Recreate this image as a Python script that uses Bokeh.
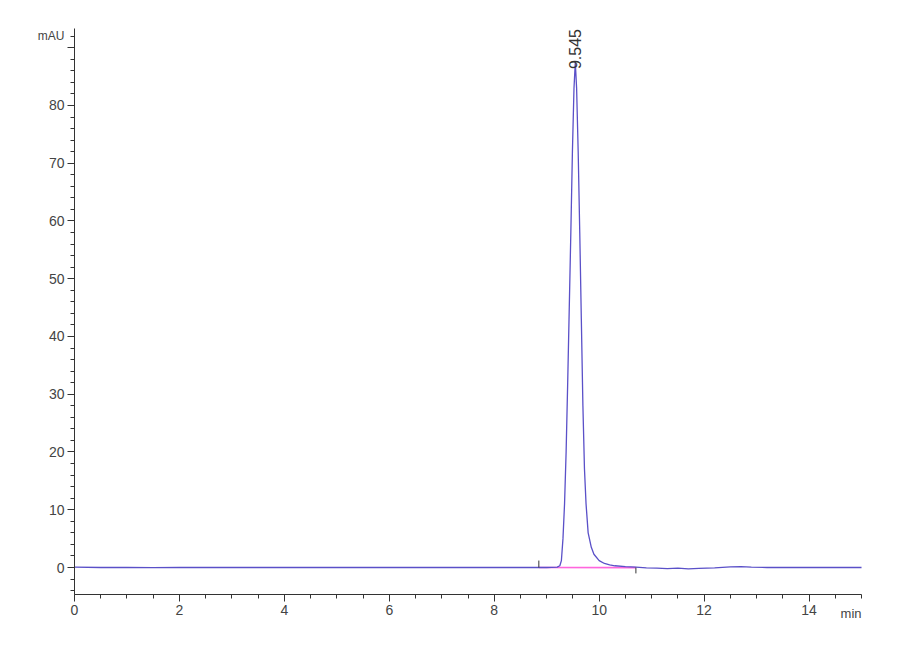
import math
from bokeh.plotting import figure
from bokeh.models import Range1d, Label, FixedTicker
from bokeh.embed import file_html
from bokeh.resources import INLINE

# chromatogram trace (min, mAU)
rt = [0.0, 0.5, 1.0, 1.5, 2.0, 2.5, 3.0, 4.0, 5.0, 6.0, 7.0, 8.0, 8.5, 8.85,
      9.0, 9.1, 9.2, 9.25, 9.28, 9.31, 9.34, 9.37, 9.40, 9.43, 9.46, 9.49,
      9.52, 9.545, 9.57, 9.60, 9.63, 9.66, 9.69, 9.72, 9.75, 9.79, 9.85,
      9.90, 10.0, 10.1, 10.2, 10.3, 10.5, 10.7, 10.9, 11.1, 11.3, 11.5,
      11.7, 11.9, 12.2, 12.5, 12.7, 12.9, 13.2, 14.0, 15.0]
mau = [0.05, 0.0, 0.02, -0.02, 0.0, 0.02, 0.0, 0.0, 0.0, 0.0, 0.0, 0.0, 0.0, 0.0,
       0.0, 0.02, 0.08, 0.3, 1.2, 5.0, 11.0, 20.0, 32.0, 45.0, 58.0, 72.0,
       83.0, 87.5, 83.0, 72.0, 58.0, 43.0, 28.0, 17.0, 11.0, 6.0, 3.5,
       2.3, 1.2, 0.7, 0.45, 0.3, 0.15, 0.05, -0.05, -0.1, -0.2, -0.1,
       -0.25, -0.15, -0.05, 0.1, 0.15, 0.05, 0.0, 0.0, 0.0]

# integration baseline and peak marks
base_t = [8.85, 10.7]
base_y = [0.0, -0.02]
peak_rt = 9.545
peak_label = "9.545"

x_ticks = [0, 2, 4, 6, 8, 10, 12, 14]
y_ticks = [0, 10, 20, 30, 40, 50, 60, 70, 80, 90]
x_lim = (0, 15)
y_lim = (-4.67, 93.3)

FONT = "Liberation Sans"

# axes sit inside the frame (fixed_location) so the unit labels are not clipped
p = figure(width=884, height=640, output_backend="svg", toolbar_location=None,
           x_range=Range1d(-1.41, 15.438), y_range=Range1d(-12.64, 98.18),
           min_border=0)
p.outline_line_color = None
p.xgrid.visible = False
p.ygrid.visible = False

p.xaxis.fixed_location = y_lim[0]
p.yaxis.fixed_location = x_lim[0]
p.xaxis.bounds = x_lim
p.yaxis.bounds = y_lim

for ax in (p.xaxis[0], p.yaxis[0]):
    ax.axis_line_color = "#333333"
    ax.major_tick_line_color = "#333333"
    ax.minor_tick_line_color = "#333333"
    ax.major_tick_out = 7
    ax.major_tick_in = 0
    ax.minor_tick_out = 4
    ax.minor_tick_in = 0
    ax.major_label_text_font = FONT
    ax.major_label_text_font_size = "14px"
    ax.major_label_text_color = "#444444"

p.xaxis.ticker = FixedTicker(ticks=x_ticks, minor_ticks=[i * 0.5 for i in range(31)])
p.yaxis.ticker = FixedTicker(ticks=y_ticks, minor_ticks=[i * 2 for i in range(-2, 47)])
p.yaxis.major_label_overrides = {90: ""}
p.xaxis.major_label_standoff = 4
p.yaxis.major_label_standoff = 3

# baseline drawn under the trace
p.line(base_t, base_y, line_color="#ff66dd", line_width=1.6)
p.line(rt, mau, line_color="#5a50c8", line_width=1.3)

# peak start / end marks
p.segment(x0=[base_t[0]], y0=[base_y[0]], x1=[base_t[0]], y1=[base_y[0] + 1.2],
          line_color="#333333", line_width=1)
p.segment(x0=[base_t[1]], y0=[base_y[1]], x1=[base_t[1]], y1=[base_y[1] - 1.0],
          line_color="#333333", line_width=1)

p.add_layout(Label(x=peak_rt, y=86.3, text=peak_label, angle=math.pi / 2,
                   text_align="left", text_baseline="middle",
                   text_font=FONT, text_font_size="16px", text_color="#333333"))
p.add_layout(Label(x=x_lim[0], y=92, x_offset=-10, text="mAU", text_align="right",
                   text_baseline="middle", text_font=FONT,
                   text_font_size="12px", text_color="#444444"))
p.add_layout(Label(x=14.8, y=y_lim[0], y_offset=-12, text="min", text_align="center",
                   text_baseline="top", text_font=FONT,
                   text_font_size="13px", text_color="#444444"))

open("out.html", "w").write(file_html(p, INLINE))
